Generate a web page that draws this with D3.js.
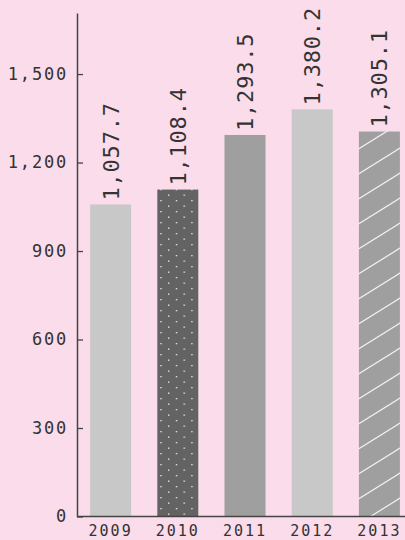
<!DOCTYPE html>
<html>
<head>
<meta charset="utf-8">
<script src="https://cdn.jsdelivr.net/npm/d3@7"></script>
<style>
  html, body { margin: 0; padding: 0; background: #fadcea; }
  svg { display: block; }
  .mono { font-family: "DejaVu Sans Mono", monospace; fill: #333; }
</style>
</head>
<body>
<svg id="chart" width="405" height="540"></svg>
<script>
// Annual totals, 2009–2013
const years = ["2009", "2010", "2011", "2012", "2013"];
const values = [1057.7, 1108.4, 1293.5, 1380.2, 1305.1];
const yTicks = [0, 300, 600, 900, 1200, 1500];
// Fill style per bar: plain, dotted, plain, plain, hatched
const fills = ["#c8c8c8", "url(#dots)", "#9f9f9f", "#c8c8c8", "url(#hatch)"];

const svg = d3.select("#chart");
const W = 405, H = 540;
const axisX = 77, baseY = 516.5, topY = 13;

const x = d3.scaleBand()
  .domain(years)
  .range([axisX, axisX + 336])
  .paddingInner(0.39)
  .paddingOuter(0.195);

const y = d3.scaleLinear()
  .domain([0, 1707])
  .range([baseY, topY]);

// Patterns
const defs = svg.append("defs");
const dots = defs.append("pattern")
  .attr("id", "dots").attr("patternUnits", "userSpaceOnUse")
  .attr("width", 15.5).attr("height", 11)
  .attr("x", x("2010") + 3).attr("y", 2);
dots.append("rect").attr("width", 15.5).attr("height", 11).attr("fill", "#636363");
dots.append("rect").attr("x", 0).attr("y", 0).attr("width", 1.3).attr("height", 1.3).attr("fill", "#f2f2f2");
dots.append("rect").attr("x", 7.75).attr("y", 5.5).attr("width", 1.3).attr("height", 1.3).attr("fill", "#f2f2f2");

const hatch = defs.append("pattern")
  .attr("id", "hatch").attr("patternUnits", "userSpaceOnUse")
  .attr("width", 40).attr("height", 25)
  .attr("x", x("2013") - 2).attr("y", 0);
hatch.append("rect").attr("width", 40).attr("height", 25).attr("fill", "#9f9f9f");
hatch.append("path")
  .attr("d", "M-40,50 L40,0 M0,25 L40,0 M0,50 L80,0 M-40,25 L40,-25")
  .attr("stroke", "#f5f5f5").attr("stroke-width", 1.1).attr("fill", "none");

// Bars
svg.append("g").selectAll("rect")
  .data(years)
  .join("rect")
  .attr("x", d => x(d))
  .attr("width", x.bandwidth())
  .attr("y", (d, i) => y(values[i]))
  .attr("height", (d, i) => baseY - y(values[i]))
  .attr("fill", (d, i) => fills[i]);

// Value labels, rotated above each bar
const fmt = d3.format(",.1f");
svg.append("g").selectAll("text")
  .data(years)
  .join("text")
  .attr("class", "mono")
  .attr("font-size", 22)
  .attr("letter-spacing", 0.8)
  .attr("text-anchor", "start")
  .attr("transform", (d, i) => `translate(${x(d) + x.bandwidth() / 2 + 8},${y(values[i]) - 4}) rotate(-90)`)
  .text((d, i) => fmt(values[i]));

// Y axis
const yAxis = d3.axisLeft(y)
  .tickValues(yTicks)
  .tickFormat(d3.format(","))
  .tickSizeInner(-6)
  .tickSizeOuter(0)
  .tickPadding(9);

const gy = svg.append("g")
  .attr("transform", `translate(${axisX},0)`)
  .call(yAxis);
gy.select(".domain").attr("stroke", "#444").attr("stroke-width", 1.5);
gy.selectAll(".tick line").attr("stroke", "#444").attr("stroke-width", 1.3);
gy.selectAll(".tick text")
  .attr("class", "mono")
  .attr("font-size", 17)
  .attr("letter-spacing", 1.8)
  .attr("fill", "#333")
  .attr("font-family", null);

// X axis baseline and year labels
const xAxis = d3.axisBottom(x).tickSize(0).tickPadding(9);
const gx = svg.append("g")
  .attr("transform", `translate(0,${baseY})`)
  .call(xAxis);
gx.select(".domain").remove();
gx.append("line")
  .attr("x1", axisX).attr("x2", W)
  .attr("stroke", "#444").attr("stroke-width", 1.5);
gx.selectAll(".tick text")
  .attr("class", "mono")
  .attr("font-size", 15)
  .attr("letter-spacing", 2)
  .attr("fill", "#333")
  .attr("font-family", null);
</script>
</body>
</html>
